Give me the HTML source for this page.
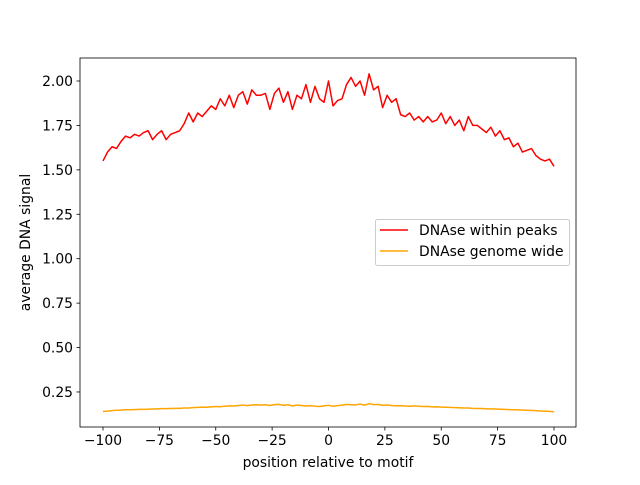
<!DOCTYPE html>
<html><head><meta charset="utf-8"><style>
html,body{margin:0;padding:0;background:#fff;}
svg text{font-family:"DejaVu Sans","Liberation Sans",sans-serif;font-size:13.9px;fill:#000;}
</style></head><body>
<svg id="chart" width="640" height="480" viewBox="0 0 640 480" xmlns="http://www.w3.org/2000/svg">
<rect width="640" height="480" fill="#fff"/>
<g id="plot"></g>
</svg>
<script>
const xTicks=[-100,-75,-50,-25,0,25,50,75,100];
const yTicks=[0.25,0.50,0.75,1.00,1.25,1.50,1.75,2.00];
const peaks=[1.55,1.60,1.63,1.62,1.66,1.69,1.68,1.70,1.69,1.71,1.72,1.67,1.70,1.72,1.67,1.70,1.71,1.72,1.76,1.82,1.77,1.82,1.80,1.83,1.86,1.84,1.90,1.86,1.92,1.85,1.92,1.94,1.87,1.95,1.92,1.92,1.93,1.84,1.93,1.96,1.88,1.94,1.84,1.92,1.90,1.98,1.88,1.97,1.90,1.88,2.00,1.86,1.89,1.90,1.98,2.02,1.97,2.00,1.92,2.04,1.95,1.97,1.85,1.92,1.88,1.90,1.81,1.80,1.82,1.78,1.80,1.77,1.80,1.77,1.78,1.82,1.76,1.80,1.75,1.78,1.72,1.80,1.75,1.75,1.73,1.71,1.74,1.69,1.72,1.67,1.68,1.63,1.65,1.60,1.61,1.62,1.58,1.56,1.55,1.56,1.52];
const genome=[0.140,0.142,0.145,0.147,0.148,0.150,0.150,0.151,0.152,0.152,0.153,0.154,0.155,0.156,0.156,0.157,0.158,0.158,0.160,0.160,0.162,0.163,0.165,0.164,0.166,0.168,0.167,0.170,0.172,0.171,0.174,0.176,0.173,0.177,0.178,0.176,0.178,0.174,0.179,0.180,0.175,0.178,0.172,0.176,0.174,0.171,0.173,0.170,0.168,0.172,0.175,0.170,0.173,0.176,0.180,0.178,0.177,0.182,0.176,0.184,0.179,0.180,0.175,0.177,0.174,0.172,0.173,0.171,0.170,0.172,0.170,0.168,0.169,0.166,0.167,0.165,0.164,0.163,0.162,0.161,0.160,0.160,0.158,0.157,0.157,0.155,0.155,0.154,0.153,0.152,0.151,0.150,0.149,0.148,0.147,0.146,0.145,0.143,0.142,0.141,0.139];
const L=80,R=576,T=58,B=427;
const xs=v=>103+(v+100)*(451/200);
const ys=v=>81+(2.0-v)*177.7;
const NS='http://www.w3.org/2000/svg';
const g=document.getElementById('plot');
function mk(tag,attrs,parent){const e=document.createElementNS(NS,tag);for(const k in attrs)e.setAttribute(k,attrs[k]);(parent||g).appendChild(e);return e;}
function line(arr,color,name){
  let d='';arr.forEach((v,i)=>{const x=xs(-100+i*200/(arr.length-1));d+=(i?'L':'M')+x.toFixed(2)+','+ys(v).toFixed(2);});
  const p=mk('path',{d:d,fill:'none',stroke:color,'stroke-width':1.5,'stroke-linejoin':'round'});
  
  
}
line(peaks,'#ff0000','line-dnase-within-peaks');
line(genome,'#ffa500','line-dnase-genome-wide');
const fr=mk('rect',{x:L,y:T,width:R-L,height:B-T,fill:'none',stroke:'#000','stroke-width':0.8});


xTicks.forEach(t=>{const x=xs(t);
  mk('line',{x1:x,x2:x,y1:B,y2:B+3.5,stroke:'#000','stroke-width':0.8});
  const tx=mk('text',{x:x,y:B+18,'text-anchor':'middle'});tx.textContent=t===0?'0':String(t).replace('-','\u2212');
  
  
});
yTicks.forEach(t=>{const y=ys(t);
  mk('line',{x1:L-3.5,x2:L,y1:y,y2:y,stroke:'#000','stroke-width':0.8});
  const tx=mk('text',{x:L-7,y:y+5,'text-anchor':'end'});tx.textContent=t.toFixed(2);
  
  
});
const xt=mk('text',{x:(L+R)/2,y:467,'text-anchor':'middle'});xt.textContent='position relative to motif';


const yt=mk('text',{x:30,y:(T+B)/2,'text-anchor':'middle',transform:'rotate(-90 30 '+((T+B)/2)+')'});yt.textContent='average DNA signal';


const lg=mk('g',{});


mk('rect',{x:375.5,y:219.5,width:194,height:46,rx:2,fill:'#fff','fill-opacity':0.8,stroke:'#ccc','stroke-width':1},lg);
[['DNAse within peaks','#ff0000',230],['DNAse genome wide','#ffa500',251]].forEach(([lab,c,y])=>{
  const e=mk('g',{},lg);
  
  
  mk('line',{x1:380,x2:408,y1:y,y2:y,stroke:c,'stroke-width':1.5},e);
  const t=mk('text',{x:419,y:y+5},e);t.textContent=lab;
});
</script>
</body></html>
